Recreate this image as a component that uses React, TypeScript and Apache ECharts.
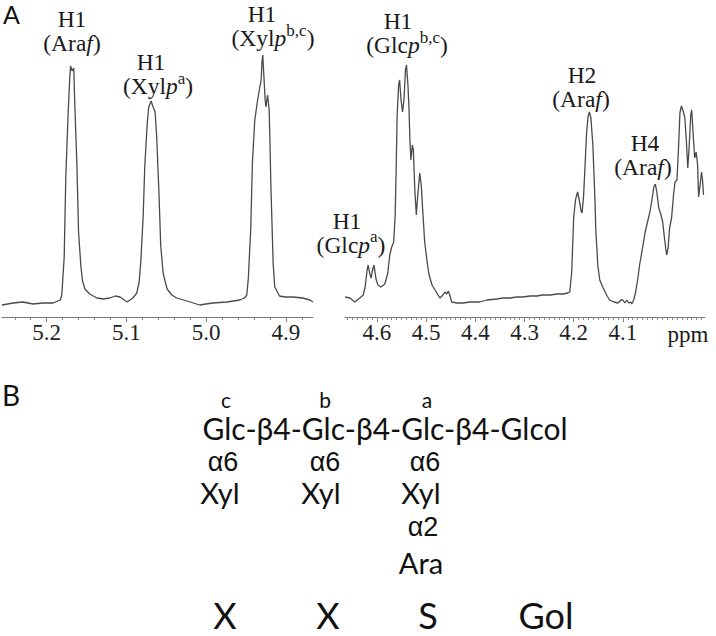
import React, { useEffect, useRef } from "react";
import * as echarts from "echarts";

// ---- Spectrum data: [ppm, intensity] ----
const leftSpectrum: [number, number][] = [
  [5.256, 12], [5.242, 14], [5.230, 15], [5.217, 13], [5.205, 14], [5.192, 14],
  [5.183, 17], [5.181, 22], [5.178, 60], [5.176, 140], [5.173, 205], [5.171, 240],
  [5.170, 251], [5.168, 246], [5.166, 249], [5.165, 220], [5.162, 150], [5.160, 85],
  [5.157, 50], [5.155, 36], [5.152, 28], [5.146, 23], [5.137, 19], [5.129, 18],
  [5.121, 19], [5.114, 21], [5.108, 20], [5.099, 15], [5.092, 19], [5.087, 24],
  [5.084, 35], [5.082, 55], [5.079, 100], [5.077, 150], [5.074, 192], [5.072, 210],
  [5.069, 216], [5.067, 211], [5.064, 205], [5.062, 180], [5.059, 120], [5.057, 72],
  [5.054, 44], [5.049, 28], [5.043, 22], [5.037, 19], [5.020, 15], [5.008, 12],
  [4.992, 14], [4.974, 15], [4.958, 17], [4.952, 19], [4.949, 22], [4.947, 40],
  [4.944, 90], [4.942, 154], [4.939, 197], [4.936, 214], [4.934, 224], [4.931, 237],
  [4.930, 255], [4.929, 262], [4.928, 247], [4.926, 217], [4.925, 210], [4.923, 222],
  [4.921, 207], [4.920, 177], [4.919, 137], [4.916, 54], [4.914, 30], [4.910, 24],
  [4.908, 21], [4.901, 20], [4.891, 20], [4.879, 19], [4.870, 17], [4.866, 15],
];

const rightSpectrum: [number, number][] = [
  [4.665, 20], [4.655, 19], [4.645, 15], [4.635, 19], [4.628, 22], [4.624, 30],
  [4.620, 47], [4.618, 52], [4.615, 44], [4.612, 39], [4.608, 49], [4.606, 52],
  [4.602, 38], [4.598, 32], [4.592, 30], [4.584, 33], [4.578, 44], [4.574, 62],
  [4.570, 70], [4.566, 75], [4.563, 102], [4.561, 147], [4.559, 202], [4.556, 232],
  [4.554, 237], [4.551, 217], [4.548, 205], [4.545, 218], [4.542, 247], [4.540, 252],
  [4.537, 232], [4.535, 210], [4.533, 177], [4.531, 157], [4.528, 172], [4.526, 167],
  [4.523, 127], [4.520, 102], [4.517, 122], [4.513, 144], [4.510, 132], [4.507, 107],
  [4.503, 75], [4.498, 55], [4.494, 42], [4.488, 32], [4.482, 27], [4.472, 19],
  [4.466, 22], [4.462, 25], [4.458, 23], [4.455, 26], [4.452, 22], [4.448, 15],
  [4.437, 14], [4.425, 14], [4.411, 15], [4.391, 15], [4.377, 17], [4.356, 18],
  [4.344, 19], [4.330, 19], [4.316, 20], [4.303, 20], [4.289, 21], [4.275, 21],
  [4.263, 22], [4.248, 22], [4.234, 23], [4.222, 23], [4.212, 24], [4.208, 25],
  [4.204, 45], [4.200, 100], [4.196, 118], [4.192, 125], [4.189, 118], [4.185, 106],
  [4.183, 104], [4.180, 120], [4.177, 150], [4.174, 182], [4.171, 200], [4.168, 205],
  [4.165, 199], [4.161, 172], [4.157, 120], [4.155, 87], [4.151, 52], [4.147, 37],
  [4.141, 30], [4.133, 22], [4.127, 17], [4.118, 15], [4.110, 14], [4.104, 17],
  [4.100, 17], [4.096, 14], [4.092, 17], [4.088, 14], [4.084, 15], [4.082, 13],
  [4.078, 17], [4.074, 25], [4.070, 37], [4.066, 52], [4.059, 72], [4.055, 84],
  [4.049, 97], [4.045, 105], [4.041, 117], [4.037, 130], [4.034, 133], [4.031, 125],
  [4.027, 109], [4.023, 103], [4.019, 95], [4.015, 77], [4.011, 62], [4.008, 69],
  [4.005, 89], [4.001, 99], [3.997, 122], [3.994, 135], [3.990, 137], [3.987, 167],
  [3.984, 204], [3.981, 211], [3.978, 207], [3.974, 199], [3.971, 177], [3.968, 149],
  [3.965, 172], [3.962, 202], [3.960, 207], [3.957, 182], [3.954, 159], [3.951, 165],
  [3.948, 152], [3.946, 120], [3.943, 132], [3.940, 145], [3.938, 137], [3.936, 122],
];

// ---- Axis ticks ----
const leftTickLabels = [5.2, 5.1, 5.0, 4.9];
const rightTickLabels = [4.6, 4.5, 4.4, 4.3, 4.2, 4.1];
const leftMinorTicks = [
  5.24, 5.22, 5.2, 5.18, 5.16, 5.14, 5.12, 5.1, 5.08, 5.06, 5.04, 5.02, 5.0,
  4.98, 4.96, 4.94, 4.92, 4.9, 4.88,
];
const rightMinorTicks = Array.from({ length: 73 }, (_, i) => Math.round((3.94 + i * 0.01) * 100) / 100);
const leftRange = [4.866, 5.256];
const rightRange = [3.933, 4.665];
const unitLabel = "ppm";

// ---- Annotation texts (segment kinds: n = normal, i = italic, s = superscript) ----
type Seg = [string, "n" | "i" | "s"];
const peakLabelLines: [string, Seg[]][] = [
  ["H1", [["(Ara", "n"], ["f", "i"], [")", "n"]]],
  ["H1", [["(Xyl", "n"], ["p", "i"], ["a", "s"], [")", "n"]]],
  ["H1", [["(Xyl", "n"], ["p", "i"], ["b,c", "s"], [")", "n"]]],
  ["H1", [["(Glc", "n"], ["p", "i"], ["a", "s"], [")", "n"]]],
  ["H1", [["(Glc", "n"], ["p", "i"], ["b,c", "s"], [")", "n"]]],
  ["H2", [["(Ara", "n"], ["f", "i"], [")", "n"]]],
  ["H4", [["(Ara", "n"], ["f", "i"], [")", "n"]]],
];
const panelLetters = ["A", "B"];
const residueLetters = ["c", "b", "a"];
const backbone = "Glc-β4-Glc-β4-Glc-β4-Glcol";
const branchLinks = ["α6", "α6", "α6"];
const branchSugars = ["Xyl", "Xyl", "Xyl"];
const araLink = "α2";
const araSugar = "Ara";
const codeLetters = ["X", "X", "S", "Gol"];

// ---- Layout (pixels) ----
const peakLabelPos: [number, number, number, number][] = [
  [72, 19, 72, 43],
  [151, 62, 158, 86],
  [262, 14, 273, 38],
  [347, 220.5, 351, 244.5],
  [398, 21, 407, 45],
  [582, 75, 581, 99],
  [645, 143, 643, 167],
];
const residueX = [226, 325, 427];
const branchLinkX = [223, 325, 425];
const branchSugarX = [220, 321, 421];
const codeX = [225, 328, 428, 546];

const SERIF_NAME = "Liberation Serif";
const SERIF = "'Liberation Serif', 'Times New Roman', serif";
const SANS = "Lato, 'Noto Sans', 'Liberation Sans', sans-serif";
const GREEK_SANS = "'Liberation Sans', sans-serif";
const TEXT_COLOR = "#1a1a1a";
const LABEL_SIZE = 23.5;
const SUP_SIZE = 17;

function segFont(kind: string) {
  const size = kind === "s" ? SUP_SIZE : LABEL_SIZE;
  return { size, style: kind === "i" ? "italic" : "normal" };
}

function plainSerif(x: number, y: number, text: string, size: number, fontStyle: string, align: string) {
  return {
    type: "text",
    x,
    y,
    silent: true,
    style: {
      text,
      fill: TEXT_COLOR,
      fontFamily: SERIF,
      fontSize: size,
      fontStyle,
      align,
      verticalAlign: "middle",
      textAlign: align,
      textVerticalAlign: "middle",
    },
  };
}

function segmentedLine(cx: number, cy: number, segs: Seg[], ctx: CanvasRenderingContext2D) {
  const widths = segs.map(([t, k]) => {
    const f = segFont(k);
    ctx.font = `${f.style} ${f.size}px "${SERIF_NAME}"`;
    return ctx.measureText(t).width;
  });
  const total = widths.reduce((a, b) => a + b, 0);
  let x = cx - total / 2;
  const out: any[] = [];
  segs.forEach(([t, k], i) => {
    const f = segFont(k);
    out.push(plainSerif(x, k === "s" ? cy - 8 : cy, t, f.size, f.style, "left"));
    x += widths[i];
  });
  return out;
}

function sansText(x: number, y: number, text: string, size: number, align = "center", family = SANS) {
  return {
    type: "text",
    x,
    y,
    silent: true,
    style: {
      text,
      fill: "#111",
      fontFamily: family,
      fontSize: size,
      align,
      verticalAlign: "middle",
      textAlign: align,
      textVerticalAlign: "middle",
    },
  };
}

function mainAxis(gridIndex: number, range: number[], ticks: number[]) {
  return {
    type: "value",
    gridIndex,
    min: range[0],
    max: range[1],
    inverse: true,
    position: "bottom",
    axisLine: { show: true, onZero: false, lineStyle: { color: "#7a7a7a", width: 1 } },
    axisTick: { show: true, customValues: ticks, length: 5, lineStyle: { color: "#7a7a7a" } },
    axisLabel: {
      show: true,
      customValues: ticks,
      formatter: (v: number) => v.toFixed(1),
      fontFamily: SERIF,
      fontSize: 23,
      color: "#222",
      margin: 4,
    },
    splitLine: { show: false },
  };
}

function minorAxis(gridIndex: number, range: number[], ticks: number[]) {
  return {
    type: "value",
    gridIndex,
    min: range[0],
    max: range[1],
    inverse: true,
    position: "bottom",
    axisLine: { show: false, onZero: false },
    axisTick: { show: true, customValues: ticks, length: 3, lineStyle: { color: "#8a8a8a" } },
    axisLabel: { show: false },
    splitLine: { show: false },
  };
}

export default function App() {
  const ref = useRef<HTMLDivElement>(null);

  useEffect(() => {
    if (!ref.current) return;
    const chart = echarts.init(ref.current, undefined, { renderer: "svg" });
    const ctx = document.createElement("canvas").getContext("2d") as CanvasRenderingContext2D;

    const elements: any[] = [];
    peakLabelLines.forEach((lines, i) => {
      const p = peakLabelPos[i];
      elements.push(plainSerif(p[0], p[1], lines[0], LABEL_SIZE, "normal", "center"));
      segmentedLine(p[2], p[3], lines[1], ctx).forEach((e) => elements.push(e));
    });
    elements.push(plainSerif(688, 334, unitLabel, 23, "normal", "center"));
    elements.push(sansText(3, 14, panelLetters[0], 25, "left"));
    elements.push(sansText(2, 395, panelLetters[1], 28, "left"));
    residueLetters.forEach((t, i) => elements.push(sansText(residueX[i], 399, t, 21)));
    elements.push(sansText(385, 428, backbone, 30));
    branchLinks.forEach((t, i) => elements.push(sansText(branchLinkX[i], 462, t, 27, "center", GREEK_SANS)));
    branchSugars.forEach((t, i) => elements.push(sansText(branchSugarX[i], 492, t, 29)));
    elements.push(sansText(423, 527, araLink, 27, "center", GREEK_SANS));
    elements.push(sansText(421, 562, araSugar, 29));
    codeLetters.forEach((t, i) => elements.push(sansText(codeX[i], 615, t, 36)));

    const option: any = {
      animation: false,
      grid: [
        { left: 2, top: 17, width: 311, height: 300 },
        { left: 345, top: 17, width: 360, height: 300 },
      ],
      xAxis: [
        mainAxis(0, leftRange, leftTickLabels),
        minorAxis(0, leftRange, leftMinorTicks),
        mainAxis(1, rightRange, rightTickLabels),
        minorAxis(1, rightRange, rightMinorTicks),
      ],
      yAxis: [
        { type: "value", gridIndex: 0, min: 0, max: 300, show: false },
        { type: "value", gridIndex: 1, min: 0, max: 300, show: false },
      ],
      series: [
        {
          type: "line", xAxisIndex: 0, yAxisIndex: 0, data: leftSpectrum,
          showSymbol: false, symbol: "none", lineStyle: { color: "#4a4a4a", width: 1.3 },
        },
        {
          type: "line", xAxisIndex: 2, yAxisIndex: 1, data: rightSpectrum,
          showSymbol: false, symbol: "none", lineStyle: { color: "#4a4a4a", width: 1.3 },
        },
      ],
      graphic: { elements },
    };
    chart.setOption(option);
    return () => chart.dispose();
  }, []);

  return (
    <div
      ref={ref}
      style={{ position: "fixed", left: 0, top: 0, width: 716, height: 636, background: "#fff" }}
    />
  );
}
